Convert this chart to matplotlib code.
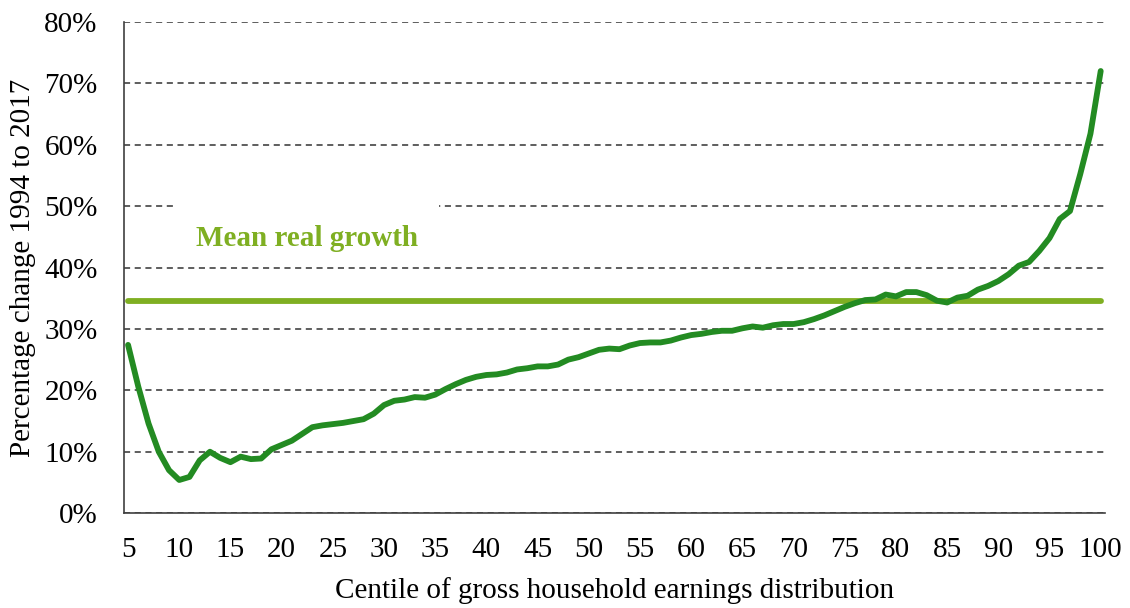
import numpy as np
import matplotlib.pyplot as plt
from matplotlib.patches import Rectangle
from matplotlib.ticker import FuncFormatter

# Real growth by centile, 1994 to 2017 (%)
centile = np.arange(5, 101)
growth = [
    27.4, 20.6, 14.6, 10.0, 7.0, 5.4, 5.9, 8.6, 10.0, 9.0,
    8.3, 9.2, 8.8, 8.9, 10.4, 11.1, 11.8, 12.9, 14.0, 14.3,
    14.5, 14.7, 15.0, 15.3, 16.2, 17.6, 18.3, 18.5, 18.9, 18.8,
    19.3, 20.2, 21.0, 21.7, 22.2, 22.5, 22.6, 22.9, 23.4, 23.6,
    23.9, 23.9, 24.2, 25.0, 25.4, 26.0, 26.6, 26.8, 26.7, 27.3,
    27.7, 27.8, 27.8, 28.1, 28.6, 29.0, 29.2, 29.5, 29.7, 29.7,
    30.1, 30.4, 30.2, 30.6, 30.8, 30.8, 31.1, 31.6, 32.2, 32.9,
    33.6, 34.2, 34.7, 34.8, 35.6, 35.3, 36.0, 36.0, 35.5, 34.6,
    34.3, 35.1, 35.4, 36.4, 37.0, 37.8, 38.9, 40.3, 40.9, 42.7,
    44.8, 47.9, 49.2, 55.2, 61.8, 72.0,
]
mean_growth = 34.5

curve_col = '#238B22'
mean_col = '#7FAF22'

plt.rc('font', family='Liberation Serif')

fig = plt.figure(figsize=(11.3, 6.08), dpi=100)
ax = fig.add_axes([0.1097, 0.156, 0.868, 0.808])

ax.plot(centile, np.full(len(centile), mean_growth), color=mean_col,
        lw=4.2, solid_capstyle='round', zorder=3)
ax.plot(centile, growth, color=curve_col, lw=4.2,
        solid_capstyle='round', solid_joinstyle='round', zorder=4)

# white label box over the gridline
ax.add_patch(Rectangle((9.6, 42.5), 25.8, 8.3, facecolor='white',
                       edgecolor='none', zorder=2))
ax.text(22.5, 44.8, 'Mean real growth', color=mean_col, fontsize=21,
        fontweight='bold', ha='center', va='center', zorder=5)

ax.set_xlim(4.6, 100.4)
ax.set_ylim(0, 80)
ax.set_xticks(np.arange(5, 101, 5))
ax.set_yticks(np.arange(0, 81, 10))
ax.yaxis.set_major_formatter(FuncFormatter(lambda v, p: f'{v:.0f}%'))
ax.tick_params(length=0, labelsize=21)
ax.tick_params(axis='y', pad=19)
ax.tick_params(axis='x', pad=17)

ax.grid(axis='y', linestyle=(0, (4, 3)), color='#333333', lw=1.1, zorder=1)
ax.set_axisbelow(True)
for s in ['top', 'right']:
    ax.spines[s].set_visible(False)
for s in ['left', 'bottom']:
    ax.spines[s].set_color('#404040')
    ax.spines[s].set_linewidth(1.2)

ax.set_xlabel('Centile of gross household earnings distribution', fontsize=21, labelpad=10)
ax.set_ylabel('Percentage change 1994 to 2017', fontsize=21, labelpad=6)

fig.savefig('out.png', dpi=100)
